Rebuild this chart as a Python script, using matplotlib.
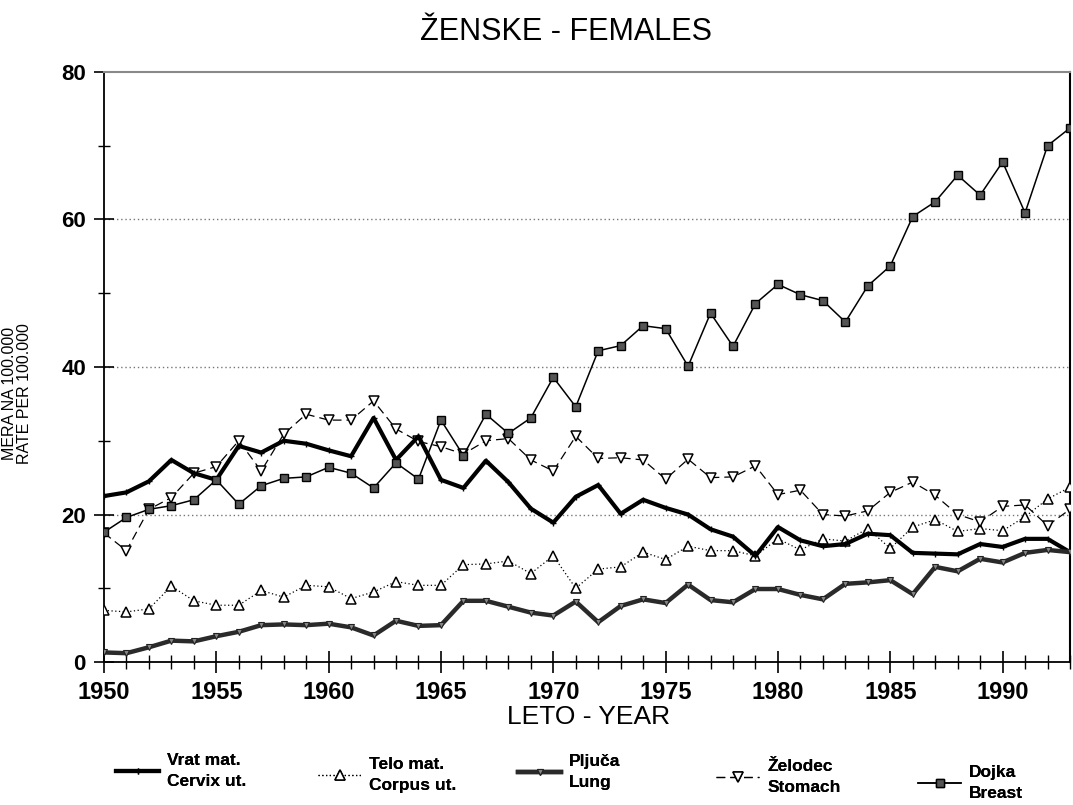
import matplotlib
matplotlib.use("Agg")
import matplotlib.pyplot as plt
from matplotlib.ticker import MultipleLocator

plt.rcParams['font.family'] = ['Liberation Sans', 'DejaVu Sans']

years = list(range(1950, 1994))

cervix = [22.5, 23.0, 24.5, 27.4, 25.6, 24.7, 29.3, 28.4, 30.0, 29.6, 28.7,
          27.9, 33.1, 27.4, 30.6, 24.7, 23.6, 27.3, 24.4, 20.8, 18.9,
          22.4, 24.0, 20.1, 22.0, 20.9, 20.0, 18.0, 17.0, 14.4, 18.3,
          16.5, 15.7, 16.0, 17.4, 17.2, 14.8, 14.7, 14.6, 16.0, 15.6,
          16.7, 16.7, 14.9]

corpus = [7.0, 6.8, 7.2, 10.3, 8.3, 7.7, 7.7, 9.7, 8.8, 10.4, 10.2,
          8.6, 9.5, 10.9, 10.4, 10.4, 13.2, 13.3, 13.7, 12.0, 14.4,
          10.0, 12.6, 12.9, 14.9, 13.9, 15.7, 15.1, 15.1, 14.4, 16.7,
          15.2, 16.7, 16.4, 18.1, 15.4, 18.3, 19.3, 17.7, 18.1, 17.8,
          19.7, 22.1, 23.7]

lung = [1.3, 1.2, 2.0, 2.9, 2.8, 3.5, 4.1, 5.0, 5.1, 5.0, 5.2,
        4.7, 3.6, 5.6, 4.9, 5.0, 8.3, 8.3, 7.5, 6.7, 6.3,
        8.2, 5.4, 7.6, 8.5, 8.0, 10.5, 8.4, 8.1, 9.9, 9.9,
        9.1, 8.5, 10.6, 10.8, 11.1, 9.2, 12.9, 12.3, 14.0, 13.5,
        14.8, 15.2, 14.9]

stomach = [17.5, 15.1, 20.7, 22.3, 25.6, 26.5, 30.0, 25.9, 30.9, 33.6, 32.8,
           32.8, 35.4, 31.6, 29.9, 29.2, 28.2, 30.0, 30.3, 27.4, 25.9,
           30.6, 27.6, 27.7, 27.4, 24.8, 27.5, 25.0, 25.1, 26.6, 22.7,
           23.3, 20.0, 19.8, 20.5, 23.0, 24.4, 22.6, 20.0, 19.0, 21.1,
           21.3, 18.5, 20.7]

breast = [17.6, 19.6, 20.7, 21.2, 22.0, 24.7, 21.4, 23.9, 24.9, 25.1, 26.4,
          25.6, 23.6, 27.0, 24.8, 32.8, 28.0, 33.6, 31.0, 33.1, 38.6,
          34.6, 42.2, 42.9, 45.6, 45.2, 40.1, 47.3, 42.8, 48.6, 51.2,
          49.8, 49.0, 46.1, 51.0, 53.7, 60.4, 62.4, 66.0, 63.3, 67.8,
          60.9, 70.0, 72.4]

labels = ["Vrat mat.\nCervix ut.", "Telo mat.\nCorpus ut.", "Pljuča\nLung",
          "Želodec\nStomach", "Dojka\nBreast"]

W, H = 1073, 805
fig = plt.figure(figsize=(W / 100, H / 100), dpi=100)
ax = fig.add_axes([0.0969, 0.1776, 0.9003, 0.733])

for yv in (20, 40, 60):
    ax.axhline(yv, color='#777777', lw=1.0, ls=(0, (1, 2)), zorder=0)

l1, = ax.plot(years, cervix, color='black', lw=3.0, marker='+', ms=5,
              mew=1.0, zorder=4)
l2, = ax.plot(years, corpus, color='black', lw=0.9, ls=(0, (1, 2)),
              marker='^', ms=7, mfc='white', mec='black', mew=1.1, zorder=3)
l3, = ax.plot(years, lung, color='#2a2a2a', lw=3.2, marker='v', ms=4,
              mfc='#888888', mec='#222222', mew=0.8, zorder=4)
l4, = ax.plot(years, stomach, color='black', lw=0.9, ls=(0, (7, 4)),
              marker='v', ms=7, mfc='white', mec='black', mew=1.1, zorder=3)
l5, = ax.plot(years, breast, color='black', lw=1.1, marker='s', ms=6,
              mfc='#555555', mec='black', mew=1.0, zorder=5)

ax.set_xlim(1950, 1993)
ax.set_ylim(0, 80)

ax.xaxis.set_major_locator(MultipleLocator(5))
ax.xaxis.set_minor_locator(MultipleLocator(1))
ax.yaxis.set_major_locator(MultipleLocator(20))
ax.yaxis.set_minor_locator(MultipleLocator(10))

ax.tick_params(axis='x', which='major', direction='inout', length=16, width=1.2,
               labelsize=17, pad=6)
ax.tick_params(axis='x', which='minor', direction='inout', length=10, width=1.0)
ax.tick_params(axis='y', which='major', direction='inout', length=14, width=1.2,
               labelsize=16, pad=6)
ax.tick_params(axis='y', which='minor', direction='inout', length=8, width=1.0)
for t in ax.get_xticklabels() + ax.get_yticklabels():
    t.set_fontweight('bold')

ax.spines['top'].set_color('#888888')
ax.spines['top'].set_linewidth(1.5)
ax.spines['left'].set_linewidth(1.3)
ax.spines['bottom'].set_linewidth(1.3)
ax.spines['right'].set_linewidth(1.5)

ax.set_ylabel("MERA NA 100.000\nRATE PER 100.000", fontsize=11.5,
              linespacing=0.95)
ax.yaxis.set_label_coords(-0.075, 0.455)

fig.text(566 / W, 1 - 40 / H, "ŽENSKE - FEMALES", fontsize=22,
         ha='center', va='baseline')
fig.text(589 / W, 1 - 717 / H, "LETO - YEAR", fontsize=19,
         ha='center', va='center')

# individual legend entries, staggered as in the original
handles = [l1, l2, l3, l4, l5]
leg_x = [116, 318, 518, 716, 918]      # left edge of sample line (px)
leg_y = [771, 775, 772, 777, 783]      # vertical centre of the entry (px)
for h, lab, lx, ly in zip(handles, labels, leg_x, leg_y):
    lg = fig.legend([h], [lab], loc='center left',
                    bbox_to_anchor=(lx / W, 1 - ly / H),
                    frameon=False, handlelength=2.5, handletextpad=0.45,
                    borderpad=0, borderaxespad=0,
                    prop={'size': 12.5, 'weight': 'bold'})
    for t in lg.get_texts():
        t.set_linespacing(1.45)
    fig.add_artist(lg)

fig.savefig("out.png", dpi=100)
